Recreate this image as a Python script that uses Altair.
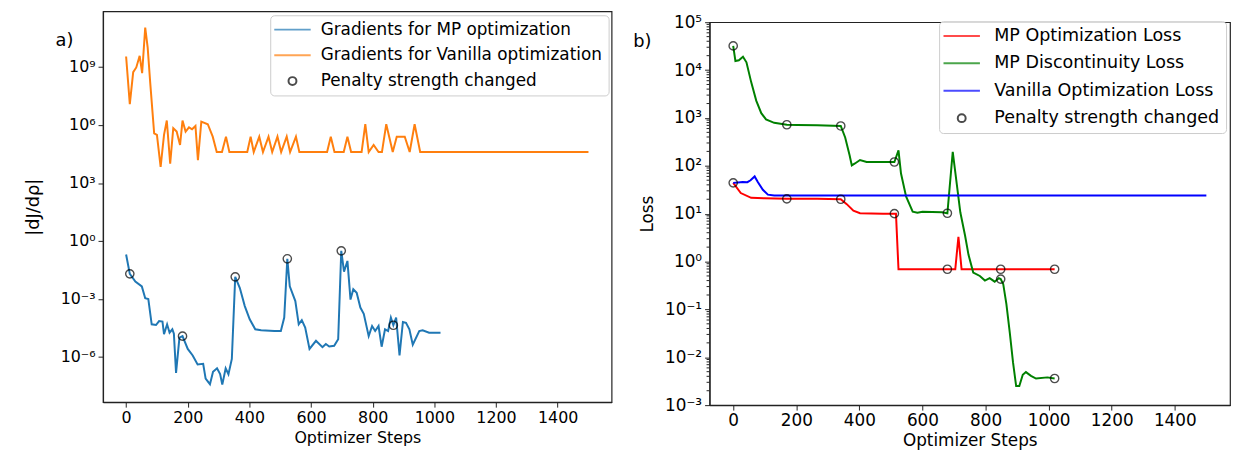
import altair as alt
import pandas as pd

FONT = "DejaVu Sans"

# ---------------- Panel a) : gradient magnitudes ----------------
mp_grad_steps = [0, 12, 30, 51, 62, 72, 83, 97, 107, 118,
                 123, 133, 141, 150, 155, 162, 173, 183, 200, 216,
                 232, 250, 258, 272, 282, 295, 305, 312, 323, 332,
                 343, 354, 369, 385, 401, 419, 438, 481, 502, 513,
                 523, 531, 549, 560, 570, 581, 595, 616, 637, 648,
                 659, 675, 688, 698, 707, 718, 728, 737, 748, 760,
                 771, 787, 798, 808, 819, 829, 840, 850, 859, 867,
                 876, 887, 898, 908, 919, 930, 951, 962, 983, 1020]
mp_grad_values = [2.0e-1, 2.0e-2, 7.9e-3, 4.5e-3, 1.1e-3, 1.0e-3, 4.9e-5, 4.5e-5, 7.2e-5, 6.8e-5,
                  1.5e-5, 4.9e-5, 1.8e-5, 2.7e-5, 1.6e-5, 1.5e-7, 1.0e-5, 1.2e-5, 2.6e-6, 1.2e-6,
                  4.1e-7, 4.4e-7, 7.6e-8, 3.9e-8, 1.7e-7, 2.6e-7, 1.3e-7, 3.7e-8, 2.6e-7, 1.3e-7,
                  7.9e-7, 1.4e-2, 3.7e-3, 4.3e-4, 8.9e-5, 2.7e-5, 2.4e-5, 2.2e-5, 2.2e-5, 1.1e-4,
                  1.2e-1, 4.5e-3, 7.8e-4, 4.9e-5, 8.1e-5, 3.3e-5, 2.6e-6, 6.9e-6, 3.2e-6, 4.7e-6,
                  3.5e-6, 3.8e-6, 8.3e-6, 3.1e-1, 2.6e-2, 9.3e-2, 9.3e-4, 3.2e-3, 2.1e-3, 3.6e-4,
                  1.7e-4, 1.2e-5, 4.0e-5, 2.2e-5, 4.0e-5, 3.4e-6, 2.7e-5, 2.2e-5, 1.1e-4, 4.4e-5,
                  1.1e-4, 1.2e-6, 6.5e-5, 5.8e-5, 2.7e-5, 4.3e-6, 2.2e-5, 2.4e-5, 1.8e-5, 1.8e-5]

van_grad_steps = [0, 12, 23, 33, 44, 52, 62, 70, 78, 91,
                  100, 112, 123, 132, 143, 153, 164, 175, 183, 193,
                  204, 214, 225, 233, 244, 265, 281, 294, 311, 324,
                  335, 393, 404, 414, 432, 444, 462, 474, 491, 503,
                  521, 532, 551, 562, 652, 664, 676, 706, 718, 730,
                  764, 776, 787, 803, 819, 830, 844, 865, 878, 904,
                  920, 936, 954, 1500]
van_grad_values = [3.5e9, 1.2e7, 5.4e8, 9.5e8, 3.8e9, 4.8e8, 1.1e11, 1.0e10, 1.7e8, 3.7e5,
                   3.1e5, 6.8e3, 3.1e5, 1.7e6, 1.0e4, 6.8e5, 4.6e5, 9.3e4, 1.7e6, 4.6e5,
                   7.6e5, 6.0e5, 8.9e5, 1.5e4, 1.5e6, 1.1e6, 2.5e5, 4.0e4, 4.0e4, 2.5e5,
                   4.0e4, 4.0e4, 2.5e5, 4.0e4, 2.5e5, 4.0e4, 2.5e5, 4.0e4, 2.5e5, 4.0e4,
                   2.5e5, 4.0e4, 2.5e5, 4.0e4, 4.0e4, 2.5e5, 4.0e4, 4.0e4, 2.5e5, 4.0e4,
                   4.0e4, 1.1e6, 4.0e4, 9.3e4, 4.0e4, 4.0e4, 1.1e6, 4.0e4, 2.5e5, 2.5e5,
                   4.0e4, 1.1e6, 4.0e4, 4.0e4]

a_penalty_steps = [12, 183, 354, 523, 698, 867]
a_penalty_values = [2.0e-2, 1.2e-5, 1.4e-2, 1.2e-1, 3.1e-1, 4.4e-5]

a_labels = ["Gradients for MP optimization", "Gradients for Vanilla optimization",
            "Penalty strength changed"]
a_colors = ["#1f77b4", "#ff7f0e", "black"]
a_y_ticks = [1e-6, 1e-3, 1e0, 1e3, 1e6, 1e9]
a_y_exps = [-6, -3, 0, 3, 6, 9]
a_y_domain = [4.6e-9, 7.6e11]

# ---------------- Panel b) : losses ----------------
mp_opt_steps = [0, 24, 57, 99, 170, 266, 341, 360, 381, 402, 475, 511, 516, 524, 704, 714, 724, 1019]
mp_opt_values = [44, 27, 21.4, 21, 20.4, 20.4, 20, 15.8, 11.5, 10.2, 10, 10, 10, 0.69, 0.69, 3.3, 0.69, 0.69]

mp_disc_steps = [0, 7, 18, 31, 42, 57, 73, 89, 104, 130,
                 170, 203, 266, 341, 355, 369, 376, 386, 402, 423,
                 475, 511, 524, 532, 548, 569, 584, 600, 662, 679,
                 696, 720, 735, 746, 761, 782, 798, 813, 829, 842,
                 848, 856, 866, 877, 887, 897, 907, 918, 928, 944,
                 960, 996, 1019]
mp_disc_values = [32000, 15500, 16000, 19000, 14500, 5600, 2300, 1260, 930, 790,
                  720, 710, 700, 680, 390, 166, 102, 112, 132, 120,
                  120, 120, 210, 69, 23, 11, 10.5, 11, 10.7, 10.2,
                  195, 10.7, 3.5, 1.38, 0.59, 0.50, 0.40, 0.45, 0.38, 0.45,
                  0.43, 0.34, 0.13, 0.032, 0.0079, 0.0025, 0.0025, 0.0043, 0.0049, 0.0041,
                  0.0036, 0.0038, 0.0036]

van_loss_steps = [0, 15, 30, 45, 55, 68, 78, 94, 110, 130, 1500]
van_loss_values = [44, 45, 46, 45.5, 50, 60, 46, 31.6, 25, 24, 24]

b_penalty_steps = [0, 170, 341, 511, 679, 848, 1019]
b_penalty_opt = [44, 20.4, 20, 10, 0.69, 0.69, 0.69]
b_penalty_disc = [32000, 720, 680, 120, 10.2, 0.43, 0.0036]

b_labels = ["MP Optimization Loss", "MP Discontinuity Loss", "Vanilla Optimization Loss",
            "Penalty strength changed"]
b_colors = ["red", "green", "blue", "black"]
b_y_ticks = [1e-3, 1e-2, 1e-1, 1e0, 1e1, 1e2, 1e3, 1e4, 1e5]
b_y_exps = [-3, -2, -1, 0, 1, 2, 3, 4, 5]
b_y_domain = [1e-3, 1e5]
b_minor_ticks = [m * t for t in b_y_ticks[:-1] for m in range(2, 10)]

x_ticks = [0, 200, 400, 600, 800, 1000, 1200, 1400]
x_domain = [-75, 1575]

SUP = str.maketrans("-0123456789", "⁻⁰¹²³⁴⁵⁶⁷⁸⁹")


def label_expr(exps):
    expr = "''"
    for e in exps:
        expr = f"round(log(datum.value)/LN10) == {e} ? '10{str(e).translate(SUP)}' : " + expr
    return expr


def x_enc(field, fs):
    return alt.X(field, type="quantitative",
                 scale=alt.Scale(domain=x_domain, nice=False, zero=False),
                 axis=alt.Axis(values=x_ticks, format="d", title="Optimizer Steps", grid=False,
                               tickSize=5, labelPadding=3, titlePadding=4, labelFlush=False,
                               labelFont=FONT, labelFontSize=fs, titleFont=FONT,
                               titleFontSize=fs, titleFontWeight="normal",
                               labelColor="black", titleColor="black",
                               domainColor="#222", tickColor="#222", domainWidth=1.2))


def y_enc(field, domain, ticks, exps, title, fs, title_size, title_pad):
    return alt.Y(field, type="quantitative",
                 scale=alt.Scale(type="log", domain=domain, nice=False),
                 axis=alt.Axis(values=ticks, labelExpr=label_expr(exps), title=title,
                               grid=False, tickSize=5, labelPadding=3, titlePadding=title_pad,
                               labelFont=FONT, labelFontSize=fs, titleFont=FONT,
                               titleFontSize=title_size, titleFontWeight="normal",
                               labelColor="black", titleColor="black",
                               domainColor="#222", tickColor="#222", domainWidth=1.2))


def legend_def(fs, row_pad, lx, ly, loff):
    return alt.Legend(title=None, orient="none", legendX=lx, legendY=ly, padding=6,
                      fillColor="rgba(255,255,255,0.85)", strokeColor="#cccccc",
                      cornerRadius=4, labelFont=FONT, labelFontSize=fs, labelColor="black",
                      rowPadding=row_pad, symbolSize=64, symbolStrokeWidth=2,
                      symbolOffset=8, labelOffset=loff, labelLimit=400)


def panel(lines_df, pen_df, labels, colors, ydom, yticks, yexps, ytitle, fs, tsize, tpad,
          leg, width, height, tag, tag_x, tag_y, minor=None):
    line_labels = labels[:-1]
    line_colors = colors[:-1]
    yy = y_enc("value", ydom, yticks, yexps, ytitle, fs, tsize, tpad)
    xx = x_enc("step", fs)
    lines = alt.Chart(lines_df).mark_line(strokeWidth=2).encode(
        x=xx, y=yy,
        color=alt.Color("series:N", scale=alt.Scale(domain=line_labels, range=line_colors),
                        legend=None),
        detail="series:N",
    )
    shapes = ["M-4.6,0H4.6"] * len(line_labels) + ["circle"]
    pts = alt.Chart(pen_df).mark_point(filled=False, size=70, strokeWidth=1.4).encode(
        x=xx, y=yy,
        stroke=alt.Stroke("label:N", scale=alt.Scale(domain=labels, range=colors),
                          legend=legend_def(*leg)),
        shape=alt.Shape("label:N", scale=alt.Scale(domain=labels, range=shapes),
                        legend=legend_def(*leg)),
    )
    tag_layer = alt.Chart(pd.DataFrame({"t": [tag]})).mark_text(
        font=FONT, fontSize=18, color="black", align="center", baseline="middle"
    ).encode(x=alt.value(tag_x), y=alt.value(tag_y), text="t:N")
    layers = [lines, pts, tag_layer]
    if minor is not None:
        minor_layer = alt.Chart(pd.DataFrame({"value": minor})).mark_rule(
            color="#222", strokeWidth=1
        ).encode(y=yy, x=alt.value(-3), x2=alt.value(0))
        layers.insert(0, minor_layer)
    return alt.layer(*layers).properties(width=width, height=height)


a_lines = pd.concat([
    pd.DataFrame({"step": mp_grad_steps, "value": mp_grad_values, "series": a_labels[0]}),
    pd.DataFrame({"step": van_grad_steps, "value": van_grad_values, "series": a_labels[1]}),
])
a_pen = pd.DataFrame({"step": a_penalty_steps, "value": a_penalty_values, "label": a_labels[2]})

b_lines = pd.concat([
    pd.DataFrame({"step": mp_opt_steps, "value": mp_opt_values, "series": b_labels[0]}),
    pd.DataFrame({"step": mp_disc_steps, "value": mp_disc_values, "series": b_labels[1]}),
    pd.DataFrame({"step": van_loss_steps, "value": van_loss_values, "series": b_labels[2]}),
])
b_pen = pd.concat([
    pd.DataFrame({"step": b_penalty_steps, "value": b_penalty_opt, "label": b_labels[3]}),
    pd.DataFrame({"step": b_penalty_steps, "value": b_penalty_disc, "label": b_labels[3]}),
])

left = panel(a_lines, a_pen, a_labels, a_colors, a_y_domain, a_y_ticks, a_y_exps,
             "|dJ/dρ|", 16, 18, 18, (17, 8, 169, 4, 20), 514, 395, "a)", -39, 30)
right = panel(b_lines, b_pen, b_labels, b_colors, b_y_domain, b_y_ticks, b_y_exps,
              "Loss", 17, 17, 8, (17.7, 8.7, 232, 10, 24), 526, 387, "b)", -68, 20,
              minor=b_minor_ticks)

# tiny invisible spacer so that panel b) sits a few pixels lower than panel a)
spacer = alt.Chart(pd.DataFrame({"s": [0]})).mark_rule(opacity=0, strokeWidth=0).encode(
    x=alt.value(0), x2=alt.value(0), y=alt.value(0), y2=alt.value(0)
).properties(width=1, height=1, view=alt.ViewBackground(strokeOpacity=0))

chart = alt.hconcat(left, alt.vconcat(spacer, right, spacing=0), spacing=20).resolve_scale(
    color="independent", stroke="independent", shape="independent",
    x="independent", y="independent"
).resolve_legend(
    color="independent", stroke="independent", shape="independent"
).properties(
    padding={"left": 16, "top": 0, "right": 0, "bottom": 0}, background="white"
).configure_view(stroke="#222", strokeWidth=1.2)

chart.save("out.html", embed_options={"renderer": "svg", "actions": False})
